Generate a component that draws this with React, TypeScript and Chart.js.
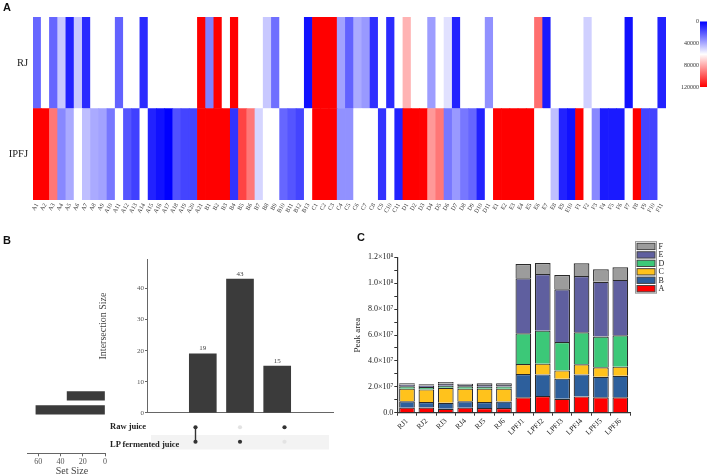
import React, { useEffect, useRef } from "react";
import { Chart, registerables } from "chart.js";

Chart.register(...registerables);

const SERIF = "'Liberation Serif', 'Times New Roman', 'DejaVu Serif', serif";
const SANS = "'Liberation Sans', Arial, sans-serif";

// ---------------- Panel A : heatmap ----------------
const compounds = [
  "A1", "A2", "A3", "A4", "A5", "A6", "A7", "A8", "A9", "A10", "A11", "A12", "A13", "A14", "A15", "A16", "A17", "A18", "A19", "A20", "A21",
  "B1", "B2", "B3", "B4", "B5", "B6", "B7", "B8", "B9", "B10", "B11", "B12", "B13",
  "C1", "C2", "C3", "C4", "C5", "C6", "C7", "C8", "C9", "C10", "C11",
  "D1", "D2", "D3", "D4", "D5", "D6", "D7", "D8", "D9", "D10", "D11",
  "E1", "E2", "E3", "E4", "E5", "E6", "E7", "E8", "E9", "E10",
  "F1", "F2", "F3", "F4", "F5", "F6", "F7", "F8", "F9", "F10", "F11",
];
const heatRowLabels = ["RJ", "IPFJ"];
const rjValues = [
  24000, 60000, 24000, 47000, 8000, 47000, 10000, 60000, 60000, 60000, 23000, 60000, 60000, 10000, 60000, 60000, 60000, 60000, 60000, 60000, 120000,
  30000, 120000, 60000, 120000, 60000, 60000, 60000, 47000, 26000, 60000, 60000, 60000, 4000,
  120000, 120000, 120000, 38000, 23000, 40000, 36000, 11000, 60000, 10000, 60000,
  78000, 60000, 60000, 37000, 60000, 53000, 8000, 60000, 60000, 60000, 34000,
  60000, 60000, 60000, 60000, 60000, 94000, 6000, 60000, 60000, 60000,
  60000, 49000, 60000, 60000, 60000, 60000, 4000, 60000, 60000, 60000, 8000,
];
const ipfjValues = [
  120000, 120000, 92000, 32000, 40000, 60000, 45000, 40000, 38000, 28000, 60000, 20000, 15000, 60000, 8000, 4000, 0, 19000, 16000, 16000, 120000,
  120000, 120000, 120000, 12000, 104000, 92000, 50000, 60000, 60000, 24000, 20000, 16000, 60000,
  120000, 120000, 120000, 34000, 34000, 60000, 60000, 60000, 12000, 60000, 8000,
  120000, 120000, 120000, 84000, 92000, 28000, 36000, 28000, 24000, 8000, 60000,
  120000, 120000, 120000, 120000, 120000, 60000, 60000, 45000, 8000, 4000,
  120000, 60000, 32000, 6000, 6000, 6000, 60000, 120000, 16000, 16000, 60000,
];
const colorScaleTicks = [0, 40000, 80000, 120000];
const colorScaleMax = 120000;

// ---------------- Panel B : UpSet ----------------
const setNames = ["Raw juice", "LP fermented juice"];
const setSizes = [34, 62];
const intersectionSizes = [19, 43, 15];
const rawJuiceMember = [true, false, true];
const lpJuiceMember = [true, true, false];
const intersectionTicks = [0, 10, 20, 30, 40];
const setSizeTicks = [0, 20, 40, 60];

// ---------------- Panel C : stacked bars ----------------
const samples = ["RJ1", "RJ2", "RJ3", "RJ4", "RJ5", "RJ6", "LPFJ1", "LPFJ2", "LPFJ3", "LPFJ4", "LPFJ5", "LPFJ6"];
const classNames = ["A", "B", "C", "D", "E", "F"];
const classA = [3.9e6, 4.0e6, 3.1e6, 3.9e6, 3.6e6, 3.6e6, 1.19e7, 1.29e7, 1.08e7, 1.26e7, 1.19e7, 1.19e7];
const classB = [4.9e6, 4.2e6, 4.6e6, 4.9e6, 4.6e6, 5.0e6, 1.8e7, 1.67e7, 1.55e7, 1.7e7, 1.59e7, 1.67e7];
const classC = [9.8e6, 9.8e6, 1.16e7, 9.8e6, 1.04e7, 1.0e7, 7.7e6, 8.3e6, 6.4e6, 7.8e6, 7.3e6, 7.0e6];
const classD = [1.8e6, 1.8e6, 1.6e6, 1.8e6, 1.5e6, 1.6e6, 2.37e7, 2.55e7, 2.19e7, 2.47e7, 2.37e7, 2.42e7];
const classE = [1.2e6, 1.2e6, 1.5e6, 1.0e6, 1.4e6, 1.3e6, 4.26e7, 4.38e7, 4.08e7, 4.35e7, 4.24e7, 4.28e7];
const classF = [1.1e6, 0.9e6, 1.3e6, 1.0e6, 1.2e6, 1.2e6, 1.1e7, 8.5e6, 1.1e7, 9.8e6, 9.6e6, 9.8e6];
const classSeries = [classA, classB, classC, classD, classE, classF];
const classColors = ["#ff0000", "#2d5f9c", "#ffc21c", "#3cc878", "#5f5f9f", "#9c9c9c"];

function heatColor(v: number): string {
  const mid = colorScaleMax / 2;
  if (v <= mid) {
    const t = Math.max(0, v / mid);
    const c = Math.round(255 * t);
    return `rgb(${c},${c},255)`;
  }
  const t = Math.min(1, (v - mid) / mid);
  const c = Math.round(255 * (1 - t));
  return `rgb(255,${c},${c})`;
}

const SUP: Record<string, string> = { "0": "⁰", "1": "¹", "2": "²", "3": "³", "4": "⁴", "5": "⁵", "6": "⁶", "7": "⁷", "8": "⁸", "9": "⁹" };
function sci(v: number): string {
  if (v === 0) return "0.0";
  const e = Math.floor(Math.log10(v) + 1e-9);
  const m = v / Math.pow(10, e);
  return `${m.toFixed(1)}×10${String(e).split("").map((d) => SUP[d]).join("")}`;
}

function ChartCanvas({ left, top, width, height, makeConfig }: any) {
  const ref = useRef<HTMLCanvasElement>(null);
  useEffect(() => {
    const chart = new Chart(ref.current as HTMLCanvasElement, makeConfig());
    return () => chart.destroy();
  }, []);
  return (
    <canvas
      ref={ref}
      width={width}
      height={height}
      style={{ position: "absolute", left, top, width, height }}
    />
  );
}

// ---------- configs ----------
const heatmapConfig = (): any => ({
  type: "bar",
  data: {
    labels: compounds,
    datasets: [
      { label: heatRowLabels[1], data: ipfjValues.map(() => 1), backgroundColor: ipfjValues.map(heatColor), borderWidth: 0 },
      { label: heatRowLabels[0], data: rjValues.map(() => 1), backgroundColor: rjValues.map(heatColor), borderWidth: 0 },
    ],
  },
  options: {
    responsive: false,
    animation: false,
    layout: { padding: { top: 17, right: 42, bottom: 0, left: 0 } },
    plugins: { legend: { display: false }, tooltip: { enabled: false } },
    datasets: { bar: { barPercentage: 1, categoryPercentage: 1 } },
    scales: {
      x: {
        stacked: true,
        grid: { display: false, drawTicks: false },
        border: { display: false },
        ticks: { autoSkip: false, minRotation: 60, maxRotation: 60, padding: 2, color: "#333", font: { family: SERIF, size: 6 } },
        afterFit: (s: any) => { s.height = 25; },
      },
      y: {
        stacked: true,
        min: 0,
        max: 2,
        grid: { display: false, drawTicks: false },
        border: { display: false },
        afterBuildTicks: (s: any) => { s.ticks = [{ value: 0.5 }, { value: 1.5 }]; },
        ticks: {
          padding: 5,
          color: "#222",
          font: { family: SERIF, size: 10.5 },
          callback: (v: any) => (v > 1 ? heatRowLabels[0] : heatRowLabels[1]),
        },
        afterFit: (s: any) => { s.width = 33; },
      },
    },
  },
  plugins: [
    {
      id: "colorbar",
      afterDraw(chart: any) {
        const ctx = chart.ctx;
        const x = 700, w = 7, y0 = 21.5, y1 = 87;
        const g = ctx.createLinearGradient(0, y0, 0, y1);
        g.addColorStop(0, heatColor(0));
        g.addColorStop(0.5, heatColor(colorScaleMax / 2));
        g.addColorStop(1, heatColor(colorScaleMax));
        ctx.save();
        ctx.fillStyle = g;
        ctx.fillRect(x, y0, w, y1 - y0);
        ctx.fillStyle = "#333";
        ctx.font = `6px ${SERIF}`;
        ctx.textAlign = "right";
        ctx.textBaseline = "middle";
        colorScaleTicks.forEach((v) => {
          const y = y0 + ((y1 - y0) * v) / colorScaleMax;
          ctx.fillText(String(v), x - 1, y);
        });
        ctx.restore();
      },
    },
  ],
});

const INT_LEFT = 95, INT_TOP = 250;
const intersectionConfig = (): any => ({
  type: "bar",
  data: {
    datasets: [
      { data: intersectionSizes.map((v, i) => ({ x: i + 1, y: v })), backgroundColor: "#3b3b3b", barThickness: 27 },
    ],
  },
  options: {
    responsive: false,
    animation: false,
    layout: { padding: { top: 9, right: 7, bottom: 0, left: 0 } },
    plugins: { legend: { display: false }, tooltip: { enabled: false } },
    scales: {
      x: {
        type: "linear",
        min: 0,
        max: 4,
        ticks: { display: false },
        grid: { display: false, drawTicks: false },
        border: { color: "#666", width: 1 },
        afterFit: (s: any) => { s.height = 2; },
      },
      y: {
        min: 0,
        max: 49.5,
        afterBuildTicks: (s: any) => { s.ticks = intersectionTicks.map((v) => ({ value: v })); },
        ticks: { padding: 1, color: "#555", font: { family: SERIF, size: 7 } },
        grid: { drawOnChartArea: false, tickLength: 2, color: "#666" },
        border: { color: "#666", width: 1 },
        afterFit: (s: any) => { s.width = 52; },
      },
    },
  },
  plugins: [
    {
      id: "barLabels",
      afterDatasetsDraw(chart: any) {
        const ctx = chart.ctx;
        const meta = chart.getDatasetMeta(0);
        ctx.save();
        ctx.font = `7px ${SERIF}`;
        ctx.fillStyle = "#444";
        ctx.textAlign = "center";
        ctx.textBaseline = "bottom";
        meta.data.forEach((el: any, i: number) => ctx.fillText(String(intersectionSizes[i]), el.x, el.y - 2));
        ctx.restore();
      },
    },
    {
      id: "ytitle",
      afterDraw(chart: any) {
        const ctx = chart.ctx;
        ctx.save();
        ctx.translate(103 - INT_LEFT, 326 - INT_TOP);
        ctx.rotate(-Math.PI / 2);
        ctx.font = `10px ${SERIF}`;
        ctx.fillStyle = "#444";
        ctx.textAlign = "center";
        ctx.textBaseline = "middle";
        ctx.fillText("Intersection Size", 0, 0);
        ctx.restore();
      },
    },
  ],
});

const matrixConfig = (): any => {
  const dark: any[] = [];
  const light: any[] = [];
  const links: any[] = [];
  intersectionSizes.forEach((_, i) => {
    const members = [rawJuiceMember[i], lpJuiceMember[i]];
    const pts: any[] = [];
    members.forEach((m, s) => {
      const p = { x: i + 1, y: s === 0 ? 1 : 0 };
      if (m) { dark.push(p); pts.push(p); } else light.push(p);
    });
    if (pts.length > 1) links.push(pts);
  });
  return {
    type: "scatter",
    data: {
      datasets: [
        { data: dark, backgroundColor: "#333", borderWidth: 0, pointRadius: 2.1 },
        { data: light, backgroundColor: "#e3e3e3", borderWidth: 0, pointRadius: 2.1 },
        ...links.map((pts) => ({ data: pts, showLine: true, borderColor: "#333", borderWidth: 1.4, pointRadius: 0 })),
      ],
    },
    options: {
      responsive: false,
      animation: false,
      layout: { padding: 0 },
      plugins: { legend: { display: false }, tooltip: { enabled: false } },
      scales: {
        x: { type: "linear", min: 0, max: 4, display: false },
        y: { type: "linear", min: -0.5, max: 1.5, display: false },
      },
    },
    plugins: [
      {
        id: "band",
        beforeDatasetsDraw(chart: any) {
          const { ctx, chartArea, scales } = chart;
          const ya = scales.y.getPixelForValue(0.5);
          const yb = scales.y.getPixelForValue(-0.5);
          ctx.save();
          ctx.fillStyle = "#f3f3f3";
          ctx.fillRect(chartArea.left, ya + 0.5, chartArea.right - chartArea.left, yb - ya);
          ctx.restore();
        },
      },
    ],
  };
};

const SET_LEFT = 10, SET_TOP = 376;
const setSizeConfig = (): any => ({
  type: "bar",
  data: {
    datasets: [
      {
        data: setSizes.map((v, i) => ({ x: v, y: setSizes.length - 1 - i })),
        backgroundColor: "#3b3b3b",
        barThickness: 8.5,
      },
    ],
  },
  options: {
    indexAxis: "y",
    responsive: false,
    animation: false,
    layout: { padding: { left: 17, right: 5, top: 4, bottom: 0 } },
    plugins: { legend: { display: false }, tooltip: { enabled: false } },
    scales: {
      x: {
        type: "linear",
        reverse: true,
        min: 0,
        max: 70,
        afterBuildTicks: (s: any) => { s.ticks = setSizeTicks.map((v) => ({ value: v })); },
        ticks: { padding: 1, maxRotation: 0, color: "#555", font: { family: SERIF, size: 8 } },
        grid: { drawOnChartArea: false, tickLength: 3, color: "#666" },
        border: { color: "#666", width: 1 },
        afterFit: (s: any) => { s.height = 22.7; },
      },
      y: { type: "linear", min: -2.48, max: 1.49, display: false },
    },
  },
  plugins: [
    {
      id: "xtitle",
      afterDraw(chart: any) {
        const ctx = chart.ctx;
        ctx.save();
        ctx.font = `10px ${SERIF}`;
        ctx.fillStyle = "#444";
        ctx.textAlign = "center";
        ctx.textBaseline = "middle";
        ctx.fillText("Set Size", 72 - SET_LEFT, 471.5 - SET_TOP);
        ctx.restore();
      },
    },
  ],
});

const stackedConfig = (): any => ({
  type: "bar",
  data: {
    labels: samples,
    datasets: classNames.map((name, k) => ({
      label: name,
      data: classSeries[k],
      backgroundColor: classColors[k],
      borderColor: "#2a2a2a",
      borderWidth: 1.2,
    })),
  },
  options: {
    responsive: false,
    animation: false,
    layout: { padding: { top: 22.4, right: 78, bottom: 0, left: 0 } },
    plugins: { legend: { display: false }, tooltip: { enabled: false } },
    datasets: { bar: { barPercentage: 0.81, categoryPercentage: 1 } },
    scales: {
      x: {
        stacked: true,
        ticks: { autoSkip: false, minRotation: 45, maxRotation: 45, padding: 1, color: "#222", font: { family: SERIF, size: 7.5 } },
        grid: { drawOnChartArea: false, tickLength: 3, color: "#333" },
        border: { color: "#333", width: 1.2 },
        afterFit: (s: any) => { s.height = 32.3; },
      },
      y: {
        stacked: true,
        min: 0,
        max: 1.2e8,
        ticks: {
          stepSize: 1e7,
          padding: 1,
          color: "#222",
          font: { family: SERIF, size: 8 },
          callback: (v: any) => (Math.round(v / 1e7) % 2 === 0 ? sci(v) : ""),
        },
        grid: { drawOnChartArea: false, tickLength: 3, color: "#333" },
        border: { color: "#333", width: 1.2 },
        title: { display: true, text: "Peak area", color: "#222", font: { family: SERIF, size: 9 }, padding: { top: 2, bottom: 0 } },
        afterFit: (s: any) => { s.width = 47.3; },
      },
    },
  },
  plugins: [
    {
      id: "classLegend",
      afterDraw(chart: any) {
        const { ctx, chartArea } = chart;
        const x = chartArea.right + 7;
        const y0 = chartArea.top - 14.1;
        ctx.save();
        ctx.strokeStyle = "#999";
        ctx.lineWidth = 1;
        ctx.strokeRect(x - 1.5, y0 - 1.7, 21, 51.6);
        ctx.font = `8px ${SERIF}`;
        ctx.textAlign = "left";
        ctx.textBaseline = "middle";
        for (let r = 0; r < classNames.length; r++) {
          const k = classNames.length - 1 - r;
          const y = y0 + r * 8.45;
          ctx.fillStyle = classColors[k];
          ctx.fillRect(x, y, 18, 6.3);
          ctx.strokeStyle = "#444";
          ctx.strokeRect(x, y, 18, 6.3);
          ctx.fillStyle = "#222";
          ctx.fillText(classNames[k], x + 21.5, y + 3.4);
        }
        ctx.restore();
      },
    },
  ],
});

const panelLabel = (text: string, left: number, top: number) => (
  <div style={{ position: "absolute", left, top, font: `bold 11px ${SANS}`, lineHeight: "11px", color: "#111" }}>{text}</div>
);

export default function App() {
  return (
    <div style={{ position: "absolute", left: 0, top: 0, width: 708, height: 476, background: "#fff", overflow: "hidden" }}>
      <ChartCanvas left={0} top={0} width={708} height={225} makeConfig={heatmapConfig} />
      <ChartCanvas left={INT_LEFT} top={INT_TOP} width={245} height={168} makeConfig={intersectionConfig} />
      <ChartCanvas left={147} top={416} width={186} height={37} makeConfig={matrixConfig} />
      <ChartCanvas left={SET_LEFT} top={SET_TOP} width={100} height={100} makeConfig={setSizeConfig} />
      <ChartCanvas left={350} top={235} width={358} height={210} makeConfig={stackedConfig} />
      {setNames.map((name, i) => (
        <div
          key={name}
          style={{
            position: "absolute",
            left: 110,
            top: (i === 0 ? 425.5 : 443.5) - 5,
            font: `bold 8.5px ${SERIF}`,
            lineHeight: "10px",
            color: "#222",
            whiteSpace: "nowrap",
          }}
        >
          {name}
        </div>
      ))}
      {panelLabel("A", 3, 1.7)}
      {panelLabel("B", 3, 234.5)}
      {panelLabel("C", 357, 231.5)}
    </div>
  );
}
